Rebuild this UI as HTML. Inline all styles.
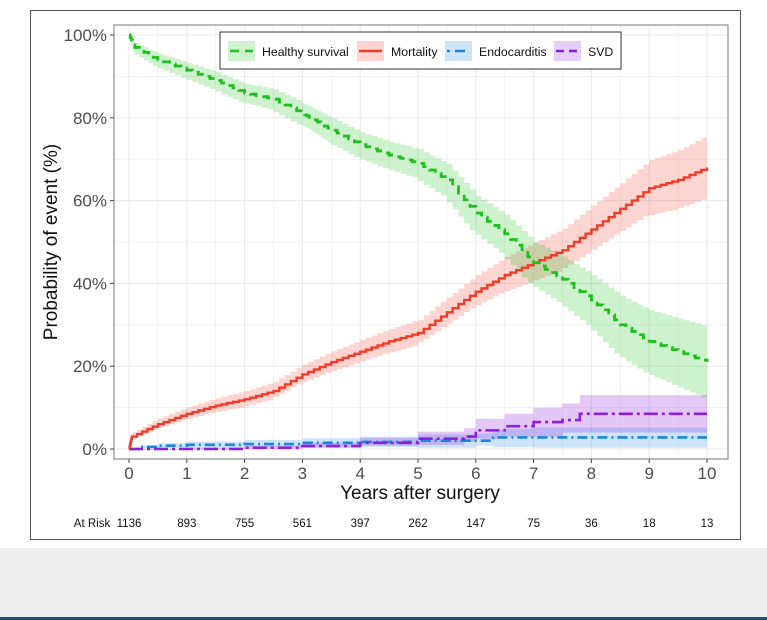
<!DOCTYPE html>
<html><head><meta charset="utf-8"><style>
html,body{margin:0;padding:0;background:#fff;}
body{width:767px;height:620px;position:relative;overflow:hidden;font-family:"Liberation Sans",sans-serif;}
#box{position:absolute;left:30px;top:10px;width:709px;height:528px;border:1px solid #555;background:#fff;}
#gray{position:absolute;left:0;top:548px;width:767px;height:70px;background:#efeff0;}
#blue{position:absolute;left:0;top:617px;width:767px;height:3px;background:#1a4f6e;}
svg{position:absolute;left:0;top:0;}
</style></head><body>
<div id="box"></div><div id="gray"></div><div id="blue"></div>
<svg id="s" width="767" height="620" xmlns="http://www.w3.org/2000/svg"></svg>
<script>
var s=document.getElementById('s');
function X(t){return 129+t*57.8;}
function Y(p){return 449-p*4.14;}
var h='';
h+='<rect x="114" y="25" width="614" height="434" fill="#fff"/>';
for(var i=0;i<=20;i++){var x=X(i*0.5);h+='<line x1="'+x+'" y1="25" x2="'+x+'" y2="459" stroke="#ebebeb" stroke-width="'+(i%2?0.6:1.1)+'"/>';}
for(var i=0;i<=10;i++){var y=Y(i*10);h+='<line x1="114" y1="'+y+'" x2="728" y2="'+y+'" stroke="#ebebeb" stroke-width="'+(i%2?0.6:1.1)+'"/>';}
function step(pts){var d='M'+X(pts[0][0])+','+Y(pts[0][1]);for(var i=1;i<pts.length;i++){d+='H'+X(pts[i][0])+'V'+Y(pts[i][1]);}return d;}
function interp(pts,n){var out=[];for(var k=0;k<pts.length-1;k++){var a=pts[k],b=pts[k+1];for(var j=0;j<n;j++){var f=j/n;out.push([a[0]+(b[0]-a[0])*f,a[1]+(b[1]-a[1])*f,a[2]+(b[2]-a[2])*f]);}}out.push(pts[pts.length-1]);return out;}
function band(pts){var d='M'+X(pts[0][0])+','+Y(pts[0][1]+pts[0][2]);for(var i=1;i<pts.length;i++){d+='H'+X(pts[i][0])+'V'+Y(pts[i][1]+pts[i][2]);}for(var i=pts.length-1;i>0;i--){d+='V'+Y(pts[i][1]-pts[i][2])+'H'+X(pts[i-1][0]);}d+='V'+Y(pts[0][1]-pts[0][2])+'Z';return d;}
var G=interp([[0,100,0],[0.1,97,1],[0.5,94,1.5],[1,91.5,1.8],[1.5,89,2],[2,86,2.2],[2.5,84.5,2.4],[3,81,2.6],[3.2,79.5,2.7],[3.5,77,2.9],[4,73.5,3],[4.5,71,3.2],[5,69,3.4],[5.5,65,3.8],[6,57,4.2],[6.5,52,4.6],[7,45,5],[7.5,41,5.5],[8,36,6],[8.5,30,7],[9,26,7.5],[9.5,23.5,8],[10,21,8.5]],5);
var R=interp([[0,0,0],[0.05,3,1],[0.5,6,1.4],[1,8.5,1.6],[1.5,10.5,1.8],[2,12,2],[2.5,14,2.2],[3,18,2.4],[3.5,21,2.6],[4,23.5,2.8],[4.5,26,3],[5,28,3.2],[5.5,33,3.6],[6,38,4],[6.5,42,4.4],[7,45,4.8],[7.5,48,5.2],[8,53,5.8],[8.5,58,6.2],[9,63,6.8],[9.5,65,7.2],[10,68,7.8]],5);
var B=[[0,0,0],[0.2,0.5,0.4],[0.5,0.8,0.6],[1,1,0.8],[2,1.2,1],[3,1.5,1.1],[4,1.7,1.3],[5,2,1.5],[6,2,1.7],[6.3,2.8,2],[7,2.8,2.4],[10,2.8,2.5]];
var P=[[0,0,0],[1,0,0.3],[2,0.3,0.5],[3,0.7,0.8],[4,1.5,1.2],[5,2.5,1.7],[5.8,3,2],[6,4.5,2.8],[6.5,5.5,3],[7,6.5,3.5],[7.5,7,4],[7.8,8.5,4.5],[10,8.5,4.5]];
h+='<path d="'+band(B)+'" fill="#1a85e0" fill-opacity="0.22"/>';
h+='<path d="'+band(P)+'" fill="#8a1fe0" fill-opacity="0.25"/>';
h+='<path d="'+band(R)+'" fill="#f03c2a" fill-opacity="0.22"/>';
h+='<path d="'+band(G)+'" fill="#1fbf1f" fill-opacity="0.22"/>';
h+='<path d="'+step(B)+'" fill="none" stroke="#1a85e0" stroke-width="2.6" stroke-dasharray="10,4,2,4"/>';
h+='<path d="'+step(P)+'" fill="none" stroke="#8a1fe0" stroke-width="2.6" stroke-dasharray="14,4,3,4"/>';
h+='<path d="'+step(R)+'" fill="none" stroke="#f03c2a" stroke-width="2.4"/>';
h+='<path d="'+step(G)+'" fill="none" stroke="#1fbf1f" stroke-width="2.8" stroke-dasharray="9,6"/>';
h+='<rect x="114" y="25" width="614" height="434" fill="none" stroke="#777" stroke-width="1"/>';
for(var i=0;i<=5;i++){var y=Y(i*20);h+='<line x1="110" y1="'+y+'" x2="114" y2="'+y+'" stroke="#444"/><text x="107" y="'+(y+6)+'" text-anchor="end" font-size="17" fill="#4d4d4d">'+(i*20)+'%</text>';}
var risk=[1136,893,755,561,397,262,147,75,36,18,13];
for(var i=0;i<=10;i++){var x=X(i);h+='<line x1="'+x+'" y1="459" x2="'+x+'" y2="463" stroke="#444"/><text x="'+x+'" y="479" text-anchor="middle" font-size="17" fill="#4d4d4d">'+i+'</text>';
h+='<text x="'+x+'" y="527" text-anchor="middle" font-size="11.5" fill="#111">'+risk[i]+'</text>';}
h+='<text x="92" y="527" text-anchor="middle" font-size="11.5" fill="#111">At Risk</text>';
h+='<text x="420" y="499" text-anchor="middle" font-size="19" fill="#111">Years after surgery</text>';
h+='<text transform="translate(57,242) rotate(-90)" text-anchor="middle" font-size="19" fill="#111">Probability of event (%)</text>';
h+='<rect x="220" y="32" width="401" height="37" fill="#fff" stroke="#333" stroke-width="1"/>';
var L=[[228,'#1fbf1f','9,6','Healthy survival'],[357,'#f03c2a','none','Mortality'],[445,'#1a85e0','3,5,10,5','Endocarditis'],[554,'#8a1fe0','8,5','SVD']];
L.forEach(function(l){h+='<rect x="'+l[0]+'" y="41" width="27" height="20" fill="'+l[1]+'" fill-opacity="0.22"/><line x1="'+(l[0]+2)+'" y1="51" x2="'+(l[0]+25)+'" y2="51" stroke="'+l[1]+'" stroke-width="2.6" stroke-dasharray="'+l[2]+'"/><text x="'+(l[0]+34)+'" y="56" font-size="12.3" fill="#111">'+l[3]+'</text>';});
s.innerHTML=h;
</script>
</body></html>
